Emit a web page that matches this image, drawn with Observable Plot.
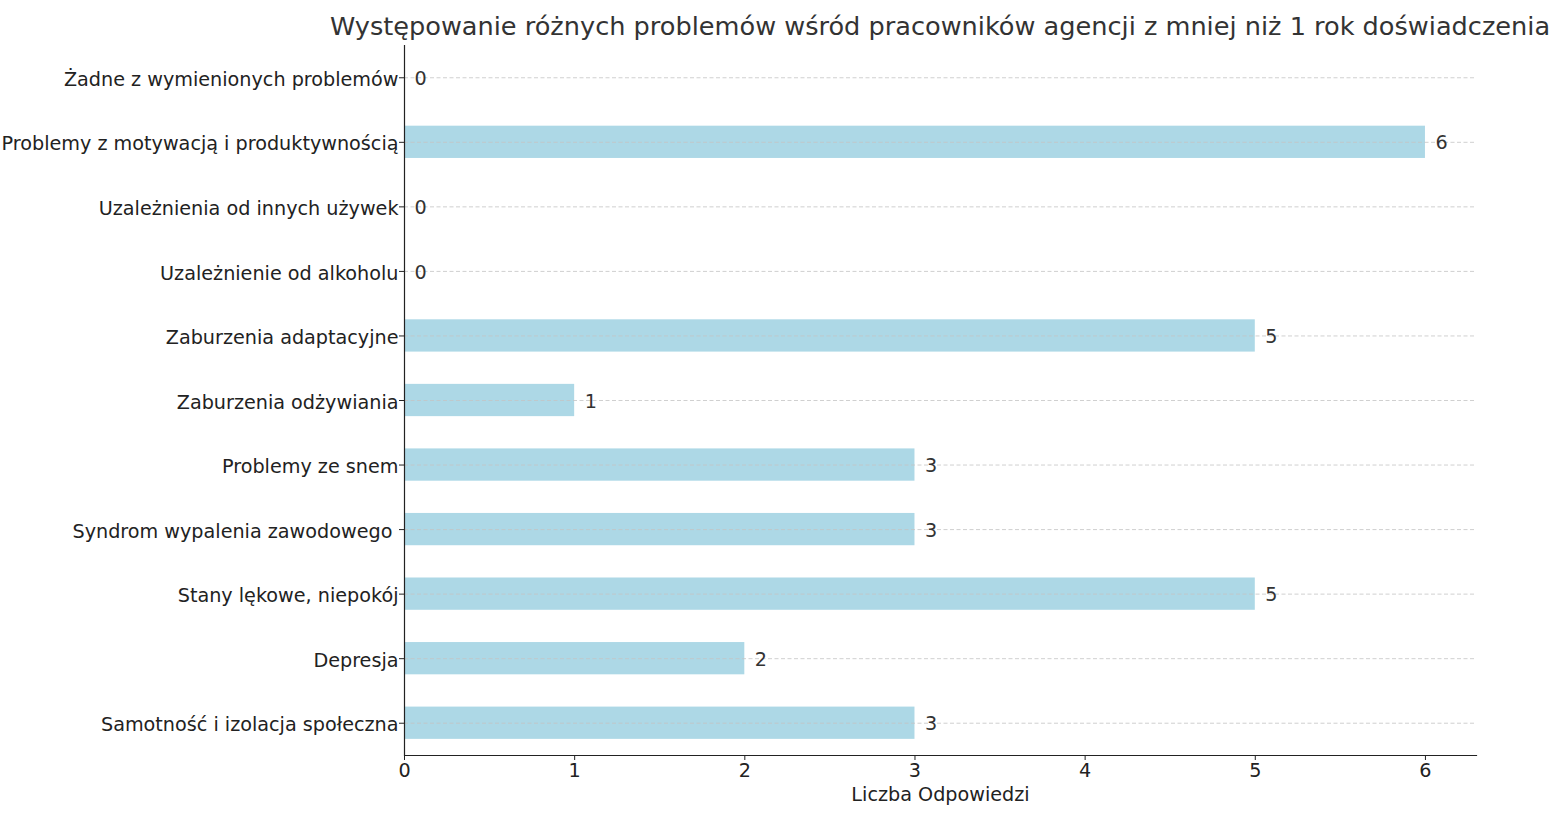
<!DOCTYPE html>
<html>
<head>
<meta charset="utf-8">
<script src="https://cdn.jsdelivr.net/npm/d3@7"></script>
<script src="https://cdn.jsdelivr.net/npm/@observablehq/plot@0.6"></script>
<style>
  html, body { margin: 0; padding: 0; background: #fff; }
  #head { position: relative; height: 40px; width: 1555px; }
  #title { position: absolute; left: 940px; top: 14px; transform: translateX(-50%); white-space: nowrap;
           font-family: "DejaVu Sans", sans-serif; font-size: 25.6px; line-height: 25.6px; color: #333; }
</style>
</head>
<body>
<div id="head"><div id="title">Występowanie różnych problemów wśród pracowników agencji z mniej niż 1 rok doświadczenia</div></div>
<div id="chart"></div>
<script>
const categories = [
  "Żadne z wymienionych problemów",
  "Problemy z motywacją i produktywnością",
  "Uzależnienia od innych używek",
  "Uzależnienie od alkoholu",
  "Zaburzenia adaptacyjne",
  "Zaburzenia odżywiania",
  "Problemy ze snem",
  "Syndrom wypalenia zawodowego ",
  "Stany lękowe, niepokój",
  "Depresja",
  "Samotność i izolacja społeczna"
];
const values = [0, 6, 0, 0, 5, 1, 3, 3, 5, 2, 3];
const xTicks = [0, 1, 2, 3, 4, 5, 6];
const xLabel = "Liczba Odpowiedzi";

const data = categories.map((c, i) => ({category: c, value: values[i]}));

const chart = Plot.plot({
  width: 1555,
  height: 783,
  marginLeft: 404,
  marginRight: 79,
  marginTop: 5,
  marginBottom: 68,
  style: {fontFamily: "DejaVu Sans, sans-serif", fontSize: "19.2px", color: "#222", background: "#fff"},
  x: {domain: [0, 6.3]},
  y: {domain: categories, paddingInner: 0.5, paddingOuter: 0.25, round: false},
  marks: [
    Plot.barX(data, {x: "value", y: "category", fill: "#ADD8E6"}),
    Plot.gridY({stroke: "#c4c4c4", strokeOpacity: 1, strokeWidth: 0.8, strokeDasharray: "4,2.5"}),
    Plot.axisY({tickSize: 5, text: null, label: null, stroke: "#222"}),
    Plot.axisY({tickSize: 0, tickPadding: 6, dy: 2, label: null,
      tickFormat: d => d.replace(/ $/, "\u00a0")}),
    Plot.axisX({ticks: xTicks, tickSize: 5, tickPadding: 3, stroke: "#222", tickFormat: d3.format("d"),
      label: xLabel, labelAnchor: "center", labelArrow: "none", labelOffset: 45}),
    Plot.ruleX([0], {stroke: "#222", strokeWidth: 1.2}),
    Plot.frame({anchor: "bottom", stroke: "#222", strokeWidth: 1.2}),
    Plot.text(data, {x: "value", y: "category", text: d => String(d.value), dx: 10, dy: 1, textAnchor: "start", fill: "#333"})
  ]
});
document.getElementById("chart").appendChild(chart);
</script>
</body>
</html>
